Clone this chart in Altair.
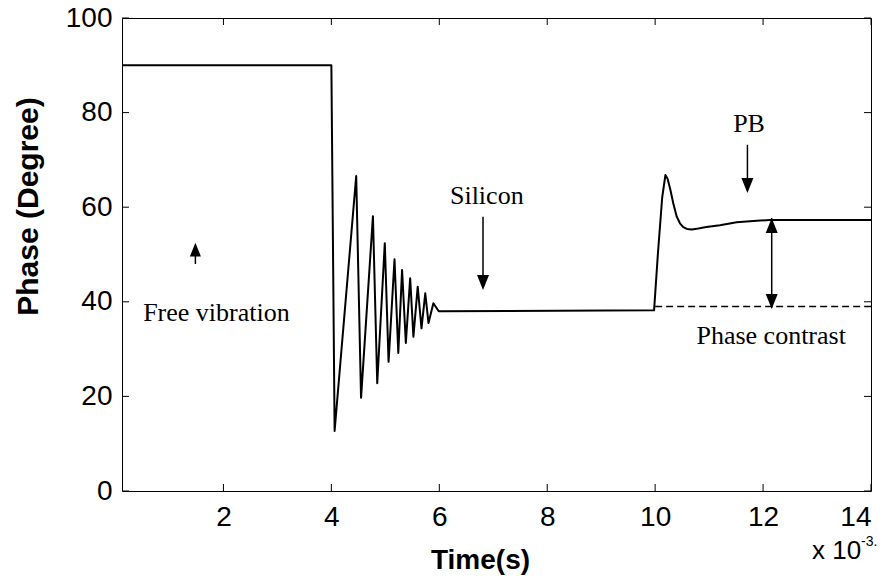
import altair as alt
import pandas as pd

# ---- data ----
time_ms = [0.12, 4.00, 4.06, 4.46, 4.55, 4.77, 4.85, 4.99, 5.06, 5.17, 5.24,
           5.31, 5.38, 5.46, 5.52, 5.60, 5.67, 5.74, 5.80, 5.89, 5.99,
           9.98, 10.05, 10.13, 10.19, 10.23, 10.28, 10.34, 10.40, 10.46, 10.52,
           10.59, 10.68, 10.80, 10.95, 11.20, 11.51, 11.82, 12.13, 14.00]
phase_deg = [90.0, 90.0, 12.7, 66.6, 19.7, 58.1, 22.8, 52.4, 27.3, 49.0, 29.2,
             46.7, 31.3, 45.0, 32.6, 43.2, 34.4, 41.8, 35.5, 39.7, 38.0,
             38.2, 50.0, 62.0, 66.8, 66.0, 63.8, 60.6, 58.0, 56.6, 55.8,
             55.4, 55.3, 55.5, 55.8, 56.2, 56.8, 57.1, 57.3, 57.3]

ref_time = [10.0, 14.0]
ref_phase = [39.0, 39.0]

x_ticks = [2, 4, 6, 8, 10, 12, 14]
y_ticks = [0, 20, 40, 60, 80, 100]

labels = ["Free vibration", "Silicon", "PB", "Phase contrast"]
label_t = [1.87, 6.88, 11.74, 12.15]
label_v = [37.6, 62.4, 77.6, 32.8]

shaft_t = [1.48, 6.81, 11.71, 12.16]
shaft_top = [51.5, 58.0, 73.2, 57.7]
shaft_bottom = [48.0, 43.0, 63.5, 38.8]

head_t = [1.48, 6.81, 11.71, 12.16, 12.16]
head_v = [52.5, 42.5, 63.0, 57.7, 38.5]
head_dir = ["up", "down", "down", "up", "down"]
head_size = [190, 225, 225, 225, 225]

W, H = 749, 473
X_DOM = [0.12, 14]
Y_DOM = [0, 100]

xs = alt.Scale(domain=X_DOM, nice=False, zero=False)
ys = alt.Scale(domain=Y_DOM, nice=False)

curve_df = pd.DataFrame({"t": time_ms, "v": phase_deg, "i": range(len(time_ms))})
ref_df = pd.DataFrame({"t": ref_time, "v": ref_phase})
lab_df = pd.DataFrame({"t": label_t, "v": label_v, "label": labels})
shaft_df = pd.DataFrame({"t": shaft_t, "v": shaft_bottom, "v2": shaft_top})
head_df = pd.DataFrame({"t": head_t, "v": head_v, "dir": head_dir, "s": head_size})
xt_df = pd.DataFrame({"t": x_ticks})
yt_df = pd.DataFrame({"v": y_ticks})

x_axis = alt.Axis(values=x_ticks, title="Time(s)", labelPadding=12,
                  titleX=358, titleY=69, titleBaseline="middle", titleAlign="center")
y_axis = alt.Axis(values=y_ticks, title="Phase (Degree)", labelPadding=10,
                  titleX=-94, titleY=188, titleBaseline="middle", titleAlign="center",
                  titleAngle=-90, titleFontSize=30)

curve = alt.Chart(curve_df).mark_line(color="black", strokeWidth=2,
                                      strokeJoin="round").encode(
    x=alt.X("t:Q", scale=xs, axis=x_axis),
    y=alt.Y("v:Q", scale=ys, axis=y_axis),
    order="i:Q",
)

ref = alt.Chart(ref_df).mark_line(color="black", strokeWidth=1.5, strokeDash=[7, 4]).encode(
    x=alt.X("t:Q", scale=xs), y=alt.Y("v:Q", scale=ys)
)

shafts = alt.Chart(shaft_df).mark_rule(color="black", strokeWidth=1.5).encode(
    x=alt.X("t:Q", scale=xs), y=alt.Y("v:Q", scale=ys), y2="v2:Q"
)

down_heads = alt.Chart(head_df).transform_filter(alt.datum.dir == "down").mark_point(
    shape="M0,0L-0.8,-2L0.8,-2Z", filled=True, color="black", opacity=1
).encode(x=alt.X("t:Q", scale=xs), y=alt.Y("v:Q", scale=ys),
         size=alt.Size("s:Q", scale=None, legend=None))

up_heads = alt.Chart(head_df).transform_filter(alt.datum.dir == "up").mark_point(
    shape="M0,0L-0.8,2L0.8,2Z", filled=True, color="black", opacity=1
).encode(x=alt.X("t:Q", scale=xs), y=alt.Y("v:Q", scale=ys),
         size=alt.Size("s:Q", scale=None, legend=None))

texts = alt.Chart(lab_df).mark_text(font="Liberation Serif", fontSize=26, color="black",
                                     align="center", baseline="middle").encode(
    x=alt.X("t:Q", scale=xs), y=alt.Y("v:Q", scale=ys), text="label:N"
)

# inward ticks on all four sides
tick_len = 7
xb = alt.Chart(xt_df).mark_rule(color="black", strokeWidth=1).encode(
    x=alt.X("t:Q", scale=xs), y=alt.value(H), y2=alt.value(H - tick_len))
xtop = alt.Chart(xt_df).mark_rule(color="black", strokeWidth=1).encode(
    x=alt.X("t:Q", scale=xs), y=alt.value(0), y2=alt.value(tick_len))
yl = alt.Chart(yt_df).mark_rule(color="black", strokeWidth=1).encode(
    y=alt.Y("v:Q", scale=ys), x=alt.value(0), x2=alt.value(tick_len))
yr = alt.Chart(yt_df).mark_rule(color="black", strokeWidth=1).encode(
    y=alt.Y("v:Q", scale=ys), x=alt.value(W), x2=alt.value(W - tick_len))

exp_base = alt.Chart(pd.DataFrame({"s": ["x 10"]})).mark_text(
    font="Liberation Sans", fontSize=26, color="black", align="left", baseline="middle"
).encode(x=alt.value(690), y=alt.value(533), text="s:N")
exp_sup = alt.Chart(pd.DataFrame({"s": ["-3."]})).mark_text(
    font="Liberation Sans", fontSize=14, color="black", align="left", baseline="middle"
).encode(x=alt.value(739), y=alt.value(524), text="s:N")

chart = alt.layer(curve, ref, shafts, down_heads, up_heads, texts,
                  xb, xtop, yl, yr, exp_base, exp_sup).properties(
    width=W, height=H,
    autosize=alt.AutoSizeParams(type="none"),
    padding={"left": 122, "top": 18, "right": 20, "bottom": 91},
    background="white",
).configure_view(stroke="black", strokeWidth=1).configure_axis(
    domain=False, ticks=False, grid=False,
    labelFont="Liberation Sans", labelFontSize=28, labelColor="black",
    titleFont="Liberation Sans", titleFontSize=28, titleFontWeight="bold", titleColor="black",
)

chart.save("out.html", embed_options={"renderer": "svg", "actions": False})
